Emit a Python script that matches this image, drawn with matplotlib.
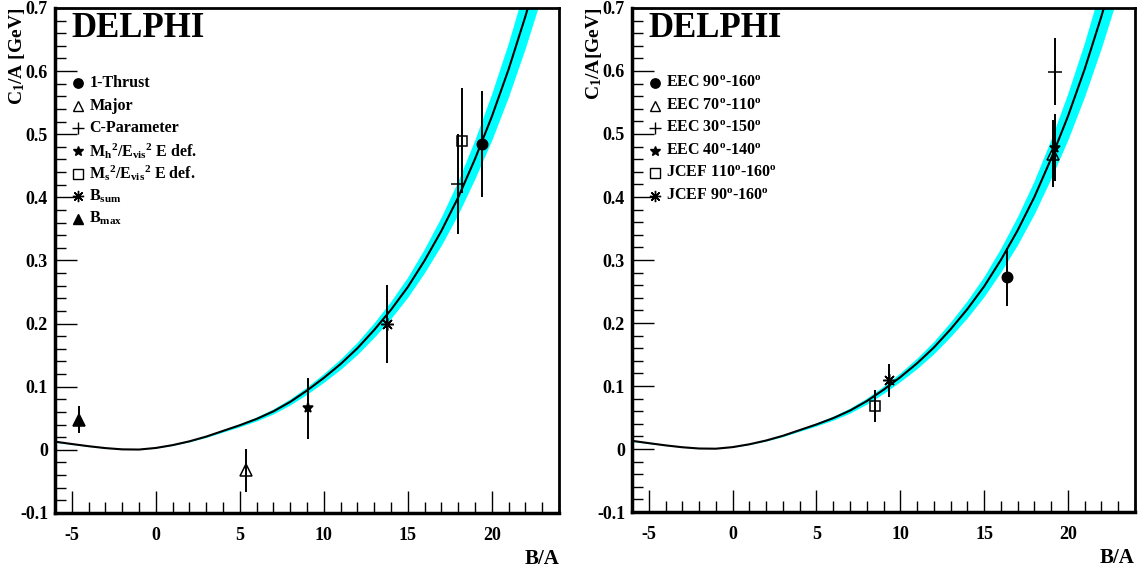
import matplotlib
matplotlib.use("Agg")
import matplotlib.pyplot as plt
from matplotlib.ticker import MultipleLocator, FuncFormatter
import numpy as np

plt.rcParams['font.family'] = ['Liberation Serif', 'DejaVu Serif']
plt.rcParams['font.weight'] = 'bold'
plt.rcParams['mathtext.fontset'] = 'custom'
plt.rcParams['mathtext.rm'] = 'Liberation Serif:bold'
plt.rcParams['mathtext.it'] = 'Liberation Serif:bold'
plt.rcParams['mathtext.bf'] = 'Liberation Serif:bold'
plt.rcParams['axes.unicode_minus'] = False

# fit curve C1/A vs B/A and half width of the cyan band
curve_x = [-6, -5, -4, -3, -2, -1, 0, 1, 2, 3, 4, 5, 6, 7, 8, 9, 10, 11, 12,
           13, 14, 15, 16, 17, 18, 19, 20, 21, 22, 23]
curve_y = [0.013, 0.0093, 0.0058, 0.0028, 0.0008, 0.0005, 0.003, 0.0075, 0.0135,
           0.021, 0.030, 0.039, 0.049, 0.061, 0.076, 0.094, 0.114, 0.136, 0.161,
           0.190, 0.222, 0.258, 0.300, 0.347, 0.400, 0.461, 0.528, 0.603, 0.687, 0.78]
band_hw = [0.001, 0.0007, 0.0004, 0.0002, 0.0001, 0.0, 0.0002, 0.0005, 0.0008,
           0.0013, 0.0019, 0.0025, 0.0032, 0.004, 0.0048, 0.0058, 0.007, 0.0083, 0.0098,
           0.0116, 0.0137, 0.016, 0.019, 0.0225, 0.0265, 0.031, 0.037, 0.043, 0.05, 0.058]

# left panel: event shape means
left_labels = ['1-Thrust', 'Major', 'C-Parameter',
               r'M$_\mathrm{h}$$^\mathrm{2}$/E$_\mathrm{vis}$$^\mathrm{2}$ E def.',
               r'M$_\mathrm{s}$$^\mathrm{2}$/E$_\mathrm{vis}$$^\mathrm{2}$ E def.',
               r'B$_\mathrm{sum}$', r'B$_\mathrm{max}$']
left_x = [19.40, 5.38, 18.01, 9.08, 18.23, 13.75, -4.55]
left_y = [0.485, -0.032, 0.421, 0.066, 0.490, 0.199, 0.048]
left_err = [0.084, 0.034, 0.079, 0.048, 0.083, 0.062, 0.021]

# right panel: energy-energy correlations
right_labels = [r'EEC 90$^\mathrm{o}$-160$^\mathrm{o}$', r'EEC 70$^\mathrm{o}$-110$^\mathrm{o}$',
                r'EEC 30$^\mathrm{o}$-150$^\mathrm{o}$', r'EEC 40$^\mathrm{o}$-140$^\mathrm{o}$',
                r'JCEF 110$^\mathrm{o}$-160$^\mathrm{o}$', r'JCEF 90$^\mathrm{o}$-160$^\mathrm{o}$']
right_x = [16.36, 19.12, 19.22, 19.24, 8.50, 9.30]
right_y = [0.273, 0.469, 0.599, 0.478, 0.068, 0.109]
right_err = [0.046, 0.053, 0.053, 0.053, 0.025, 0.026]

ast = (8, 2, 0)
left_style = [('o', 'k', 7.5), ('^', 'none', 8.5), ('+', 'k', 10), ('*', 'k', 8),
              ('s', 'none', 7.5), (ast, 'k', 9), ('^', 'k', 8)]
right_style = [('o', 'k', 7.5), ('^', 'none', 8.5), ('+', 'k', 10), ('*', 'k', 8),
               ('s', 'none', 7.5), (ast, 'k', 9)]

fig = plt.figure(figsize=(11.4, 5.71), dpi=100)
ax1 = fig.add_axes([0.0482, 0.1016, 0.4422, 0.8844])
ax2 = fig.add_axes([0.5544, 0.1033, 0.4412, 0.8827])


def draw_panel(ax, labels, xs, ys, errs, styles, ylabel):
    ax.fill_between(curve_x, np.array(curve_y) - np.array(band_hw),
                    np.array(curve_y) + np.array(band_hw), color='#00ffff', lw=0, zorder=1)
    ax.plot(curve_x, curve_y, color='k', lw=1.5, zorder=2)
    for x, y, e, (m, fc, ms) in zip(xs, ys, errs, styles):
        ax.errorbar(x, y, yerr=e, fmt='none', ecolor='k', elinewidth=1.4, zorder=3)
        ax.plot(x, y, marker=m, ms=ms, mfc=fc, mec='k', mew=1.1, ls='none', zorder=4)

    ax.set_xlim(-6, 24)
    ax.set_ylim(-0.1, 0.7)
    ax.xaxis.set_major_locator(MultipleLocator(5))
    ax.xaxis.set_minor_locator(MultipleLocator(1))
    ax.yaxis.set_major_locator(MultipleLocator(0.1))
    ax.yaxis.set_minor_locator(MultipleLocator(0.02))
    ax.yaxis.set_major_formatter(FuncFormatter(lambda v, p: '0' if abs(v) < 1e-9 else '%.1f' % v))
    ax.xaxis.set_major_formatter(FuncFormatter(lambda v, p: '%d' % round(v)))
    ax.tick_params(which='both', direction='in', top=False, right=False, labelsize=13)
    ax.tick_params(which='major', length=16, width=1)
    ax.tick_params(which='minor', length=8, width=1)
    ax.tick_params(axis='x', pad=10)
    ax.tick_params(axis='y', pad=5)
    for side in ['left', 'bottom']:
        ax.spines[side].set_linewidth(2.5)
    for side in ['top', 'right']:
        ax.spines[side].set_linewidth(2)

    ax.text(0.033, 0.942, 'DELPHI', transform=ax.transAxes, fontsize=25,
            fontweight='bold', va='baseline', ha='left')
    for i, (lab, (m, fc, ms)) in enumerate(zip(labels, styles)):
        yy = 0.851 - i * 0.0447
        ax.plot(0.045, yy, transform=ax.transAxes, marker=m, ms=ms * 0.9, mfc=fc,
                mec='k', mew=1.0, ls='none', clip_on=False)
        ax.text(0.068, yy, lab, transform=ax.transAxes, fontsize=11.5,
                va='center', ha='left')

    ax.set_xlabel('B/A', fontsize=15, fontweight='bold')
    ax.xaxis.set_label_coords(1.0, -0.072)
    ax.xaxis.label.set_ha('right')
    ax.set_ylabel(ylabel, fontsize=14, fontweight='bold')
    ax.yaxis.set_label_coords(-0.076, 1.0)
    ax.yaxis.label.set_va('center')
    ax.yaxis.label.set_ha('right')


draw_panel(ax1, left_labels, left_x, left_y, left_err, left_style, r'C$_\mathrm{1}$/A [GeV]')
draw_panel(ax2, right_labels, right_x, right_y, right_err, right_style, r'C$_\mathrm{1}$/A[GeV]')

fig.savefig('out.png', dpi=100)
